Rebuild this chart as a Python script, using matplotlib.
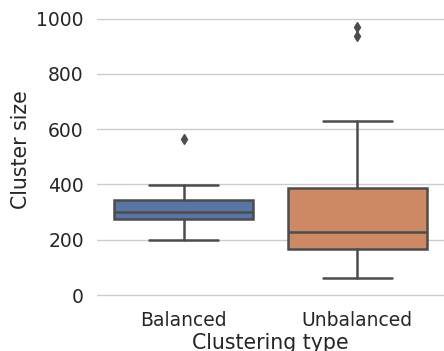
import matplotlib
matplotlib.use("Agg")
import matplotlib.pyplot as plt
import seaborn as sns

# Box statistics
categories = ["Balanced", "Unbalanced"]
whislo = [199, 60]
q1 = [274, 166]
med = [300, 228]
q3 = [344, 388]
whishi = [399, 631]
fliers = [[565], [937, 969]]
colors = ["#5975a4", "#cc8963"]

sns.set_theme(style="whitegrid", font_scale=1.2)
plt.rcParams['font.family'] = ['DejaVu Sans']

fig = plt.figure(figsize=(4.44, 3.51), dpi=100)
ax = fig.add_axes([0.2185, 0.1516, 0.7815, 0.8426])

stats = []
for i in range(len(categories)):
    stats.append(dict(label=categories[i], whislo=whislo[i], q1=q1[i], med=med[i],
                      q3=q3[i], whishi=whishi[i], fliers=fliers[i]))

gray = "#4c4c4c"
lw = 1.8
bp = ax.bxp(stats, positions=range(len(categories)), widths=0.8, patch_artist=True,
            showfliers=True,
            boxprops=dict(edgecolor=gray, linewidth=lw),
            medianprops=dict(color=gray, linewidth=lw),
            whiskerprops=dict(color=gray, linewidth=lw),
            capprops=dict(color=gray, linewidth=lw),
            capwidths=0.4,
            flierprops=dict(marker="d", markerfacecolor=gray, markeredgecolor=gray,
                            markersize=5.5))
for patch, c in zip(bp["boxes"], colors):
    patch.set_facecolor(c)

ax.set_xlim(-0.5, 1.5)
ax.set_ylim(-10, 1060)
ax.set_yticks([0, 200, 400, 600, 800, 1000])
ax.set_xticks(range(len(categories)))
ax.set_xticklabels(categories)
ax.tick_params(labelsize=13.5)
ax.grid(axis="x", visible=False)
for s in ax.spines.values():
    s.set_visible(False)
ax.set_xlabel("Clustering type", fontsize=14.8, labelpad=2)
ax.set_ylabel("Cluster size", fontsize=14.8)

fig.savefig("out.png", dpi=100)
